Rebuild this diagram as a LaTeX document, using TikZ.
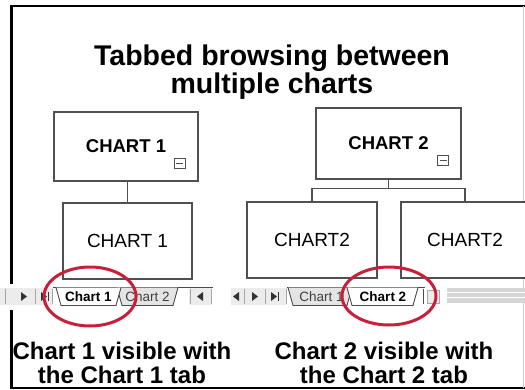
\documentclass[tikz,border=0pt]{standalone}
\usepackage{fontspec}
\setmainfont{Liberation Sans}
\usepackage{xcolor}
\usepackage{tikz}
\usetikzlibrary{positioning,shapes.geometric}
\definecolor{tabLine}{HTML}{4A4A4A}
\definecolor{boxLine}{HTML}{505050}
\definecolor{ringRed}{HTML}{C8203A}
\definecolor{tabGray}{HTML}{E4E4E4}
\definecolor{navGray}{HTML}{ECECEC}
\definecolor{barGray}{HTML}{D6D6D6}
\tikzset{
  chartbox/.style={
    rectangle,
    draw=boxLine,
    line width=1.4pt,
    fill=white,
    inner sep=0pt,
    align=center,
    font=\fontsize{19}{19}\selectfont
  },
  headbox/.style={chartbox, font=\fontsize{18.5}{18.5}\selectfont\bfseries},
  expander/.style={rectangle, draw=boxLine, line width=1pt, fill=white, minimum width=11pt, minimum height=10pt, inner sep=0pt},
  link/.style={draw=boxLine, line width=1.4pt},
  tabedge/.style={draw=tabLine, line width=0.9pt},
  tabtext/.style={inner sep=0pt, anchor=base, font=\fontsize{13.5}{13.5}\selectfont},
  navsep/.style={draw=gray!70, line width=0.8pt},
  navtri/.style={fill=black!80},
  ring/.style={ellipse, draw=ringRed, line width=3pt, inner sep=0pt},
  title/.style={align=center, inner sep=0pt, font=\fontsize{28.5}{23}\selectfont\bfseries},
  caption/.style={align=center, inner sep=0pt, font=\fontsize{24}{24}\selectfont\bfseries}
}
\begin{document}
\begin{tikzpicture}[x=1pt, y=-1pt]
  \path[clip] (0,0) rectangle (525,389);
  \fill[white] (0,0) rectangle (525,389);

  % frame
  \draw[black, line width=2.5pt] (525,6) -- (11.5,6) -- (11.5,388) -- (525,388);
  \draw[gray!40, line width=0.8pt] (523,6) -- (523,388);

  \node[title] (heading) at (272,72) {Tabbed browsing between\\multiple charts};

  % chart 1
  \node[headbox, minimum width=144pt, minimum height=69pt] (headA) at (126,146.5) {CHART 1};
  \node[chartbox, minimum width=129pt, minimum height=76pt] (subA) at (127.5,241) {CHART 1};
  \node[expander] (expA) at ([shift={(-19,-18)}]headA.south east) {};
  \draw[link, line width=1pt] ([xshift=2.5pt]expA.west) -- ([xshift=-2.5pt]expA.east);
  \draw[link] (headA.south -| subA.north) -- (subA.north);

  % chart 2
  \node[headbox, minimum width=145pt, minimum height=71pt] (headB) at (388.5,143.5) {CHART 2};
  \node[chartbox, minimum width=130pt, minimum height=76pt] (subB1) at (312,240) {CHART2};
  \node[chartbox, minimum width=128pt, minimum height=76pt] (subB2) at (465,240) {CHART2};
  \node[expander] (expB) at ([shift={(-18.5,-19)}]headB.south east) {};
  \draw[link, line width=1pt] ([xshift=2.5pt]expB.west) -- ([xshift=-2.5pt]expB.east);
  \draw[link] (headB.south) -- ++(0,9) coordinate (forkB);
  \draw[link] (subB1.north) |- (forkB) -| (subB2.north);

  % tab bar, chart 1 active
  \fill[white] (0,284) rectangle (215,310);
  \fill[navGray] (0,288) rectangle (53,305);
  \draw[navsep] (5,289) -- (5,304);
  \draw[navsep] (35,289) -- (35,304);
  \draw[navsep] (52,289) -- (52,304);
  \fill[navtri] (21,292) -- (27,296.5) -- (21,301) -- cycle;
  \fill[navtri] (41,292) -- (47,296.5) -- (41,301) -- cycle;
  \draw[navtri, draw=black!80, line width=1pt] (48.5,292) -- (48.5,301);
  \draw[tabedge] (53,287.5) -- (213,287.5);
  \draw[tabedge, fill=tabGray] (117,287.5) -- (122,305.5) -- (173,305.5) -- (178,287.5);
  \node[tabtext, text=black!75] (tabA2) at (147.5,301.5) {Chart 2};
  \draw[tabedge, fill=white] (56,287.5) -- (61,305.5) -- (116,305.5) -- (121,287.5);
  \node[tabtext, font=\fontsize{13.5}{13.5}\selectfont\bfseries] (tabA1) at (88.5,301.5) {Chart 1};
  \fill[navGray] (189,288) rectangle (212,305);
  \draw[navsep] (190,289) -- (190,304);
  \draw[navsep] (211,289) -- (211,304);
  \fill[navtri] (203,292) -- (197,296.5) -- (203,301) -- cycle;

  % tab bar, chart 2 active
  \fill[navGray] (231,288) rectangle (287,305);
  \fill[navtri] (239,292) -- (233,296.5) -- (239,301) -- cycle;
  \draw[navsep] (244,289) -- (244,304);
  \fill[navtri] (252,292) -- (258,296.5) -- (252,301) -- cycle;
  \draw[navsep] (265,289) -- (265,304);
  \fill[navtri] (271,292) -- (277,296.5) -- (271,301) -- cycle;
  \draw[navtri, draw=black!80, line width=1pt] (278.5,292) -- (278.5,301);
  \draw[navsep] (286,289) -- (286,304);
  \draw[tabedge] (287,287.5) -- (425,287.5);
  \draw[tabedge, fill=tabGray] (288,287.5) -- (293,305.5) -- (347,305.5) -- (352,287.5);
  \node[tabtext, text=black!75] (tabB1) at (321.5,301.5) {Chart 1};
  \draw[tabedge, fill=white] (347,287.5) -- (352,305.5) -- (413,305.5) -- (418,287.5);
  \node[tabtext, font=\fontsize{13.5}{13.5}\selectfont\bfseries] (tabB2) at (383,301.5) {Chart 2};
  \draw[navsep, draw=black!70] (423,289) -- (423,304);
  \draw[navsep, fill=navGray] (427,290) rectangle (439,303);
  \fill[barGray] (447,288) rectangle (525,303);
  \draw[white, line width=1pt] (447,292) -- (525,292);
  \draw[white, line width=1pt] (447,297) -- (525,297);

  % red marks
  \node[ring, minimum width=92pt, minimum height=59pt] (ringA) at (90,296.5) {};
  \node[ring, minimum width=94pt, minimum height=58pt] (ringB) at (389,296) {};

  \node[caption] (captionA) at (122,363) {Chart 1 visible with\\the Chart 1 tab};
  \node[caption] (captionB) at (384,363) {Chart 2 visible with\\the Chart 2 tab};
\end{tikzpicture}
\end{document}
